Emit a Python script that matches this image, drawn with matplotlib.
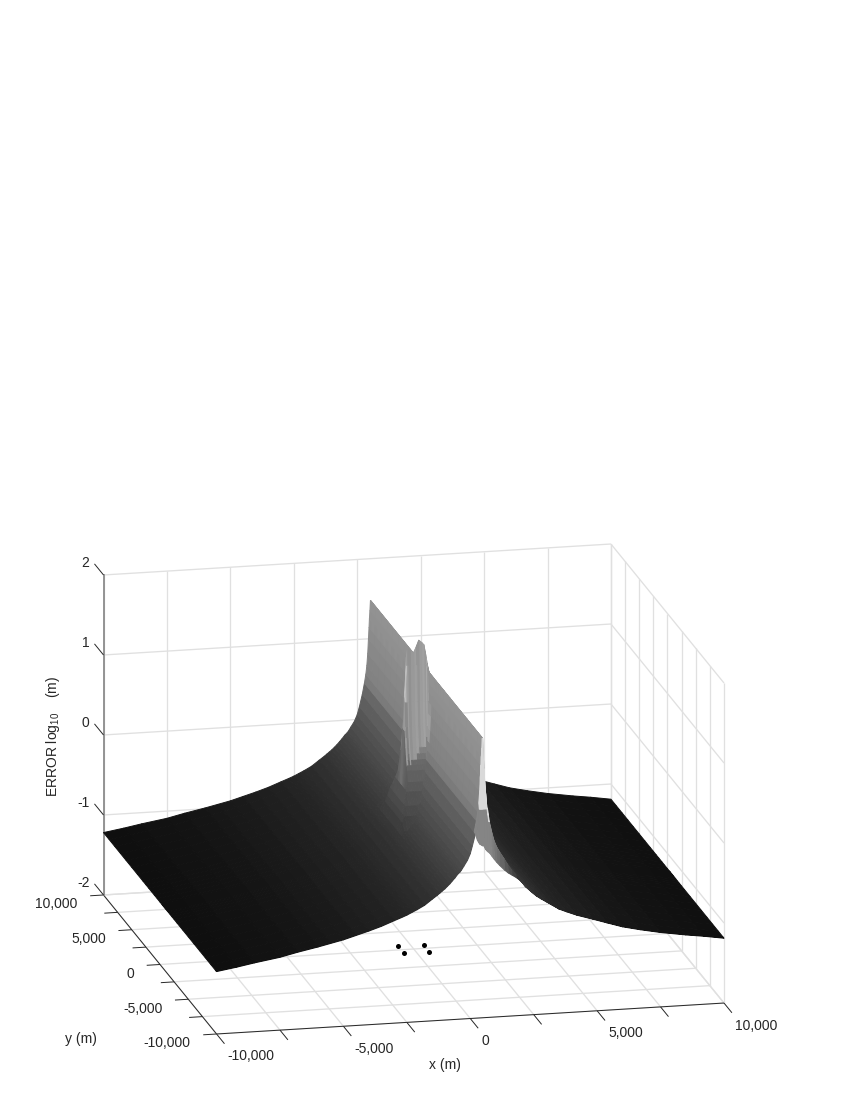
import numpy as np
import matplotlib
matplotlib.use("Agg")
import matplotlib.pyplot as plt
from mpl_toolkits.mplot3d import proj3d

plt.rcParams['font.family'] = ['Liberation Sans', 'DejaVu Sans']
plt.rcParams['mathtext.fontset'] = 'custom'
plt.rcParams['mathtext.rm'] = 'Liberation Sans'
plt.rcParams['mathtext.default'] = 'rm'

# ---- values ----
x_ticks = [-10000, -7500, -5000, -2500, 0, 2500, 5000, 7500, 10000]
y_ticks = [-10000, -7500, -5000, -2500, 0, 2500, 5000, 7500, 10000]
z_ticks = [-2, -1, 0, 1, 2]
x_labels = {-10000: '-10,000', -5000: '-5,000', 0: '0', 5000: '5,000', 10000: '10,000'}
y_labels = {-10000: '-10,000', -5000: '-5,000', 0: '0', 5000: '5,000', 10000: '10,000'}
sensor_x = [-500, 500, -500, 500]
sensor_y = [500, 500, -500, -500]
sensor_z = [-2, -2, -2, -2]

x_grid = [-10000, -9200, -8500, -7500, -6800, -6000, -5500, -5000, -4500, -4000, -3500, -3000, -2700, -2500, -2300,
          -2100, -1800, -1500, -1300, -1200, -1100, -1000, -900, -800, -700, -600, -500, -470, -400, -350, -250,
          -110, 0, 87, 200, 284, 340, 380, 415, 442, 465, 480, 500, 520, 530, 580, 612, 650, 700, 770, 860, 950,
          1050, 1163, 1350, 1500, 1650, 1820, 2000, 2200, 2400, 2612, 2800, 3000, 3200, 3500, 3800, 4200, 4832,
          5400, 6000, 6700, 7500, 8500, 9200, 10000]
# height along a column far from the centre
z_profile = [-1.22, -1.18, -1.14, -1.09, -1.04, -0.99, -0.955, -0.92, -0.875, -0.83, -0.78, -0.72, -0.685, -0.66,
             -0.63, -0.60, -0.55, -0.48, -0.435, -0.41, -0.385, -0.36, -0.33, -0.30, -0.265, -0.23, -0.19, -0.18,
             -0.16, -0.14, -0.09, -0.02, 0.06, 0.16, 0.31, 0.45, 0.56, 0.67, 0.82, 1.00, 1.14, 1.25, 1.35, 1.475,
             1.475, 1.10, 0.94, 0.78, 0.60, 0.435, 0.31, 0.20, 0.12, 0.054, -0.04, -0.12, -0.19, -0.255, -0.32,
             -0.40, -0.46, -0.52, -0.56, -0.60, -0.64, -0.70, -0.74, -0.79, -0.852, -0.91, -0.97, -1.02, -1.07,
             -1.12, -1.15, -1.19]
# upper limit of the central wall per column
wall_limit = {-900: -0.22, -800: -0.15, -700: -0.05, -600: 0.12, -500: 0.8,
              -470: 1.2, -400: 1.7, -350: 1.81, -250: 1.78, -110: 1.75, 0: 1.83, 87: 1.9, 200: 1.87, 284: 1.84,
              340: 1.75, 380: 1.68, 415: 1.6, 442: 1.55, 465: 1.52, 480: 1.5, 500: 1.475, 520: 1.475, 530: 1.475}
# lower lip along the front edge of the surface, per column
lip_z = {200: 0.30, 284: 0.22, 340: 0.19, 380: 0.17, 415: 0.165, 442: 0.16, 465: 0.155, 480: 0.15, 500: 0.15,
         520: 0.15, 530: 0.15, 580: 0.12, 612: 0.10, 650: 0.085, 700: 0.07, 770: 0.05, 860: 0.01, 950: -0.03,
         1050: -0.07, 1163: -0.11, 1350: -0.17, 1500: -0.21, 1650: -0.24, 1820: -0.275}
# upper limit of the second front row, where the lip turns light
lip_mid_limit = 0.6

y_grid = [-10000, -9900, -9800, -9000, -8000, -7000, -6000, -5000, -4000, -3000, -2500, -2100, -1800, -1500, -1300,
          -1150, -1075, -1000, -925, -850, -775, -700, -600, -530, -500, -470, -400, -300, 0, 500, 1000, 1500,
          2000, 2500, 3000, 4000, 5000, 6000, 7000, 8000, 9000, 10000]
# height of the central wall per row
wall_row = {-2500: -0.3, -2100: -0.15, -1800: -0.05, -1500: 0.1, -1300: 0.2, -1150: 0.33, -1075: 0.39, -1000: 0.45,
            -925: 0.52, -850: 0.6, -775: 0.72, -700: 0.85, -600: 1.15, -530: 1.6, -500: 3.0, -470: 1.6, -400: 1.2,
            -300: 0.9, 0: 0.5, 500: 0.2, 1000: 0.0, 1500: -0.3}

# height -> grey level
z_stops = [-1.25, -1.0, -0.7, -0.4, -0.1, 0.2, 0.45, 0.52, 1.0, 1.5, 1.9]
gray_stops = [0.05, 0.085, 0.14, 0.21, 0.29, 0.36, 0.42, 0.50, 0.54, 0.58, 0.63]
# light underside seen at the front opening of the ridge
under_x = [612, 650, 700, 770]
under_rows_y = [-9800, -9000]
under_gray = 0.85
under_lip_x = [380, 770]
# lip greys
lip_gray_x = [200, 770, 950, 1163, 1500, 1820]
lip_gray = [0.52, 0.52, 0.46, 0.40, 0.30, 0.20]
# vertical bands on the face of the central wall, by left edge of the cell
wall_band_gray = {-500: 0.60, -470: 0.74, -400: 0.62, -350: 0.57, -250: 0.60, -110: 0.62, 0: 0.58, 87: 0.61,
                  200: 0.63, 284: 0.60, 340: 0.66, 380: 0.60, 415: 0.62, 442: 0.58}
# lowest mean height that still has the band colour, per column
wall_band_min_z = {-500: 0.36, -470: 1.0, -400: 0.38, -350: 0.42, -250: 0.46, -110: 0.52, 0: 0.56, 87: 0.6,
                   200: 0.65, 284: 0.68, 340: 0.7, 380: 0.72, 415: 0.74, 442: 0.76}
wall_face_rows_y = [-1150, -1075, -1000, -925, -850, -775, -700, -600, -530]

# ---- build surface ----
xg = np.array(x_grid, float)
yg = np.array(y_grid, float)
X, Y = np.meshgrid(xg, yg)
limit_col = np.array([wall_limit.get(v, -9.0) for v in x_grid])
wall_col = np.array([wall_row.get(v, -9.0) for v in y_grid])
Z = np.maximum(np.array(z_profile)[None, :], np.minimum(wall_col[:, None], limit_col[None, :]))
for c, v in enumerate(x_grid):
    if v in lip_z:
        Z[0, c] = lip_z[v]
        Z[1, c] = max(lip_z[v], min(z_profile[c], lip_mid_limit))
Zm = 0.25 * (Z[:-1, :-1] + Z[1:, :-1] + Z[:-1, 1:] + Z[1:, 1:])
G = np.interp(Zm, z_stops, gray_stops)
for ux in under_x:
    for uy in under_rows_y:
        G[y_grid.index(uy), x_grid.index(ux) - 1] = under_gray
for c in range(len(x_grid) - 1):
    if lip_gray_x[0] <= x_grid[c] <= lip_gray_x[-1]:
        G[0, c] = np.interp(x_grid[c], lip_gray_x, lip_gray)
        if under_lip_x[0] <= x_grid[c] < under_lip_x[1]:
            G[1, c] = under_gray
        else:
            G[1, c] = G[0, c]
for xv, g in wall_band_gray.items():
    c = x_grid.index(xv)
    for yv in wall_face_rows_y:
        r = y_grid.index(yv)
        if Zm[r, c] > wall_band_min_z[xv]:
            G[r, c] = g
colors = np.dstack([G, G, G, np.ones_like(G)])

# ---- figure ----
fig = plt.figure(figsize=(8.5, 11), dpi=100, facecolor='white')
ax = fig.add_axes([0.1, 0.05, 0.8, 0.8 * 850 / 1100], projection='3d', computed_zorder=False)
ax.set_proj_type('ortho')
ax.view_init(elev=15.9, azim=-102.56)
ax.set_box_aspect((1, 1, 0.64))
ax.set_xlim(-10000, 10000, view_margin=0)
ax.set_ylim(-10000, 10000, view_margin=0)
ax.set_zlim(-2, 2, view_margin=0)
ax.set_axis_off()
ax.patch.set_alpha(0)


def screen(x, y, z):
    u, v, _ = proj3d.proj_transform(x, y, z, ax.get_proj())
    return ax.transData.transform((u, v))


# fit the axes box to the reference frame (pixel positions of two floor corners)
W, H = 850.0, 1100.0
tA = np.array([103.5, H - 895.0])
tC = np.array([724.0, H - 1003.0])
for _ in range(4):
    fig.canvas.draw()
    pA = screen(-10000, 10000, -2)
    pC = screen(10000, -10000, -2)
    s = (tC[0] - tA[0]) / (pC[0] - pA[0])
    bb = ax.get_position(original=False)
    wpx = bb.width * W * s
    hpx = wpx
    cx = bb.x0 * W + bb.width * W / 2
    cy = bb.y0 * H + bb.height * H / 2
    mid_p = (pA + pC) / 2
    new_cx = (tA[0] + tC[0]) / 2 + (cx - mid_p[0]) * s
    new_cy = (tA[1] + tC[1]) / 2 + (cy - mid_p[1]) * s
    ax.set_position([(new_cx - wpx / 2) / W, (new_cy - hpx / 2) / H, wpx / W, hpx / H])
fig.canvas.draw()

grid_c = '#e0e0e0'
grid_kw = dict(color=grid_c, lw=0.95, zorder=1, solid_capstyle='butt')
xmin, xmax = x_ticks[0], x_ticks[-1]
ymin, ymax = y_ticks[0], y_ticks[-1]
zmin, zmax = z_ticks[0], z_ticks[-1]
for v in x_ticks:
    ax.plot([v, v], [ymin, ymax], [zmin, zmin], **grid_kw)
    ax.plot([v, v], [ymax, ymax], [zmin, zmax], **grid_kw)
for v in y_ticks:
    ax.plot([xmin, xmax], [v, v], [zmin, zmin], **grid_kw)
    ax.plot([xmax, xmax], [v, v], [zmin, zmax], **grid_kw)
for v in z_ticks:
    ax.plot([xmin, xmax], [ymax, ymax], [v, v], **grid_kw)
    ax.plot([xmax, xmax], [ymin, ymax], [v, v], **grid_kw)

ax.plot_surface(X, Y, Z, facecolors=colors, shade=False, rstride=1, cstride=1,
                linewidth=0.7, antialiased=True, zorder=3)

ax.scatter(sensor_x, sensor_y, sensor_z, c='black', s=13, depthshade=False, linewidths=0, zorder=5)

axis_c = '#262626'
ax_kw = dict(color=axis_c, lw=0.7, zorder=2, solid_capstyle='butt')
ax.plot([xmin, xmax], [ymin, ymin], [zmin, zmin], **ax_kw)
ax.plot([xmin, xmin], [ymin, ymax], [zmin, zmin], **ax_kw)
ax.plot([xmin, xmin], [ymax, ymax], [zmin, zmax], color='#8c8c8c', lw=1.3, zorder=2)
x_tick_len, y_tick_len, z_tick_len = 1400, 525, 1600
for v in x_ticks:
    ax.plot([v, v], [ymin, ymin - x_tick_len], [zmin, zmin], **ax_kw)
for v in y_ticks:
    ax.plot([xmin, xmin - y_tick_len], [v, v], [zmin, zmin], **ax_kw)
for v in z_ticks:
    ax.plot([xmin, xmin], [ymax, ymax + z_tick_len], [v, v], **ax_kw)

# ---- text ----
txt_c = '#262626'


def label(s, anchor, off, ha, va='center', **kw):
    u, v, _ = proj3d.proj_transform(*anchor, ax.get_proj())
    ax.annotate(s, xy=(u, v), xytext=off, textcoords='offset pixels', ha=ha, va=va,
                fontsize=10, color=txt_c, annotation_clip=False, **kw)


for v, s in x_labels.items():
    label(s, (v, ymin, zmin), (11, -22.5), 'left')
for v, s in y_labels.items():
    label(s, (xmin, v, zmin), (-26, -9.5), 'right')
for v in z_ticks:
    label(str(v), (xmin, ymax, v), (-14, 12), 'right')


def fig_label(s, px, py, **kw):
    fig.text(px / W, 1 - py / H, s, ha='center', va='center', fontsize=10, color=txt_c, **kw)


fig_label('x (m)', 445, 1065)
fig_label('y (m)', 81, 1039)
fig_label('ERROR log$_{10}$    (m)', 53, 736, rotation=90)

fig.savefig('out.png', dpi=100)
